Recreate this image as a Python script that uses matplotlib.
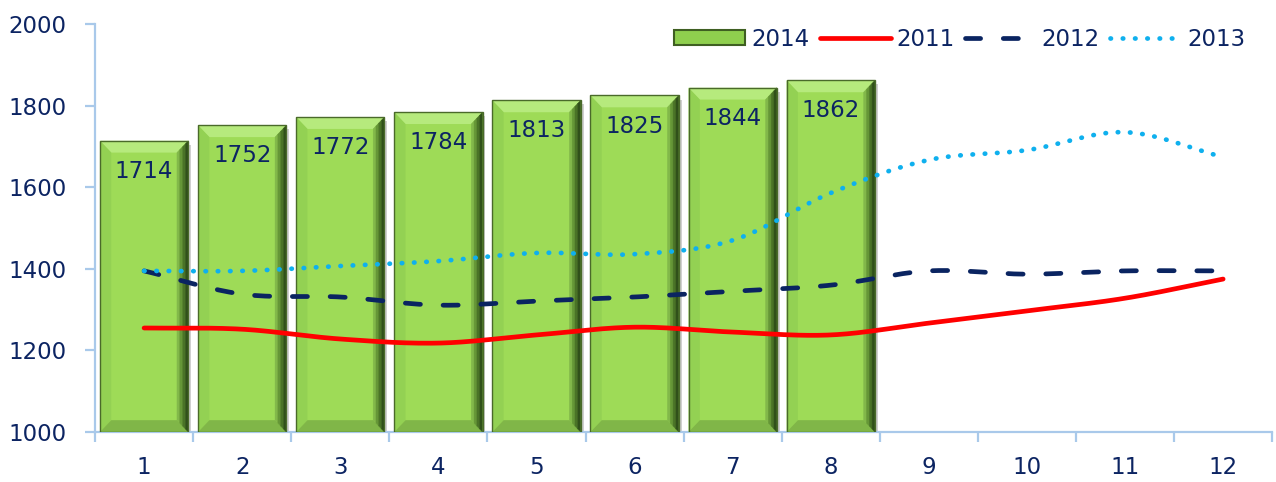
import numpy as np
import matplotlib
matplotlib.use("Agg")
import matplotlib.pyplot as plt
from matplotlib.patches import Polygon, Rectangle
from matplotlib.lines import Line2D
from matplotlib.patches import Patch

months = [1, 2, 3, 4, 5, 6, 7, 8, 9, 10, 11, 12]
bars_2014 = [1714, 1752, 1772, 1784, 1813, 1825, 1844, 1862]
s2011 = [1255, 1252, 1228, 1218, 1238, 1257, 1245, 1238, 1267, 1297, 1328, 1375]
s2012 = [1395, 1338, 1331, 1311, 1321, 1331, 1345, 1360, 1395, 1387, 1395, 1395]
s2013 = [1395, 1395, 1407, 1419, 1439, 1436, 1470, 1586, 1667, 1691, 1735, 1674]
yticks = [1000, 1200, 1400, 1600, 1800, 2000]

NAVY = "#0c2462"
AX = "#a9c9ea"
FS = 16.5


def smooth(x, y, n=30):
    x = np.asarray(x, float); y = np.asarray(y, float)
    px = np.concatenate([[2 * x[0] - x[1]], x, [2 * x[-1] - x[-2]]])
    py = np.concatenate([[2 * y[0] - y[1]], y, [2 * y[-1] - y[-2]]])
    xs, ys = [], []
    t = np.linspace(0, 1, n, endpoint=False)
    for i in range(1, len(px) - 2):
        p0, p1, p2, p3 = py[i - 1], py[i], py[i + 1], py[i + 2]
        a = 0.5 * (2 * p1 + (-p0 + p2) * t + (2 * p0 - 5 * p1 + 4 * p2 - p3) * t ** 2
                   + (-p0 + 3 * p1 - 3 * p2 + p3) * t ** 3)
        xs.append(px[i] + (px[i + 1] - px[i]) * t)
        ys.append(a)
    xs.append([x[-1]]); ys.append([y[-1]])
    return np.concatenate(xs), np.concatenate(ys)


fig = plt.figure(figsize=(12.76, 4.82), dpi=100)
ax = fig.add_axes([0.0745, 0.1037, 0.9225, 0.8463])
ax.set_xlim(0.5, 12.5)
ax.set_ylim(1000, 2000)

bw = 0.9
bx = months[:len(bars_2014)]
ax.bar(bx, bars_2014, width=bw, bottom=0, color="#9edb57", edgecolor="none",
       linewidth=0, zorder=2)
# bevel effect
for x, v in zip(bx, bars_2014):
    l, r = x - bw / 2, x + bw / 2
    dx = 0.115
    dy = 29
    b = 1000
    # shadow
    ax.add_patch(Rectangle((r, b), 0.03, v - b - 10, facecolor="#d0d0d0",
                           edgecolor="none", zorder=1))
    # top bevel
    ax.add_patch(Polygon([[l, v], [r, v], [r - dx, v - dy], [l + dx, v - dy]],
                         closed=True, facecolor="#b6ea7d", edgecolor="none", zorder=3))
    # left bevel
    ax.add_patch(Polygon([[l, b], [l, v], [l + dx, v - dy], [l + dx, b + dy]],
                         closed=True, facecolor="#93d153", edgecolor="none", zorder=3))
    # bottom bevel
    ax.add_patch(Polygon([[l, b], [r, b], [r - dx, b + dy], [l + dx, b + dy]],
                         closed=True, facecolor="#80b648", edgecolor="none", zorder=3))
    # right bevel (dark gradient)
    cols = ["#82b84a", "#659637", "#4a7327", "#30501a"]
    for k, c in enumerate(cols):
        f0 = k / len(cols); f1 = (k + 1) / len(cols)
        x0 = r - dx + dx * f0; x1 = r - dx + dx * f1
        y0t = v - dy + dy * f0; y1t = v - dy + dy * f1
        y0b = b + dy - dy * f0; y1b = b + dy - dy * f1
        ax.add_patch(Polygon([[x0, y0b], [x0, y0t], [x1, y1t], [x1, y1b]],
                             closed=True, facecolor=c, edgecolor=c, linewidth=0.3, zorder=3))
    ax.add_patch(Rectangle((l, b), bw, v - b, facecolor="none",
                           edgecolor="#4a6a2a", linewidth=1.0, zorder=4))
    ax.annotate(str(v), (x, v), xytext=(0, -22), textcoords="offset points",
                ha="center", va="center", fontsize=FS, color=NAVY, zorder=6)

xs, ys = smooth(months, s2011)
ax.plot(xs, ys, color="#ff0000", lw=3.4, solid_capstyle="round", zorder=5)
xs, ys = smooth(months, s2012)
ax.plot(xs, ys, color="#0a2461", lw=3.4, dashes=(3.2, 4.8), dash_capstyle="round", zorder=5)
xs, ys = smooth(months, s2013)
ax.plot(xs, ys, color="#0fb0ee", lw=3.4, dashes=(0.1, 2.5), dash_capstyle="round", zorder=5)

for s in ["top", "right"]:
    ax.spines[s].set_visible(False)
for s in ["left", "bottom"]:
    ax.spines[s].set_color(AX)
    ax.spines[s].set_linewidth(1.6)

ax.set_yticks(yticks)
ax.set_yticklabels([str(v) for v in yticks])
ax.set_xticks(months)
ax.set_xticklabels([str(m) for m in months])
ax.set_xticks(np.arange(0.5, 13, 1), minor=True)
ax.tick_params(axis="x", which="major", length=0, pad=17, labelsize=FS, labelcolor=NAVY)
ax.tick_params(axis="x", which="minor", length=7.5, width=1.6, color=AX, direction="out")
ax.tick_params(axis="y", length=7.5, width=1.6, color=AX, labelsize=FS, labelcolor=NAVY, pad=13)

handles = [
    Patch(facecolor="#8fcf4e", edgecolor="#3f5f22", linewidth=1.5, label="2014"),
    Line2D([], [], color="#ff0000", lw=3.4, solid_capstyle="round", label="2011"),
    Line2D([], [], color="#0a2461", lw=3.4, dashes=(3.2, 4.8), dash_capstyle="round", label="2012"),
    Line2D([], [], color="#0fb0ee", lw=3.4, dashes=(0.1, 2.5), dash_capstyle="round", label="2013"),
]
leg = ax.legend(handles=handles, loc="center right", bbox_to_anchor=(0.977, 0.963), ncol=4,
                frameon=False, fontsize=FS, handlelength=3.1, handletextpad=0.25,
                columnspacing=0.45, handleheight=0.65, borderaxespad=0, borderpad=0)
for t in leg.get_texts():
    t.set_color(NAVY)

fig.savefig("out.png", dpi=100)
